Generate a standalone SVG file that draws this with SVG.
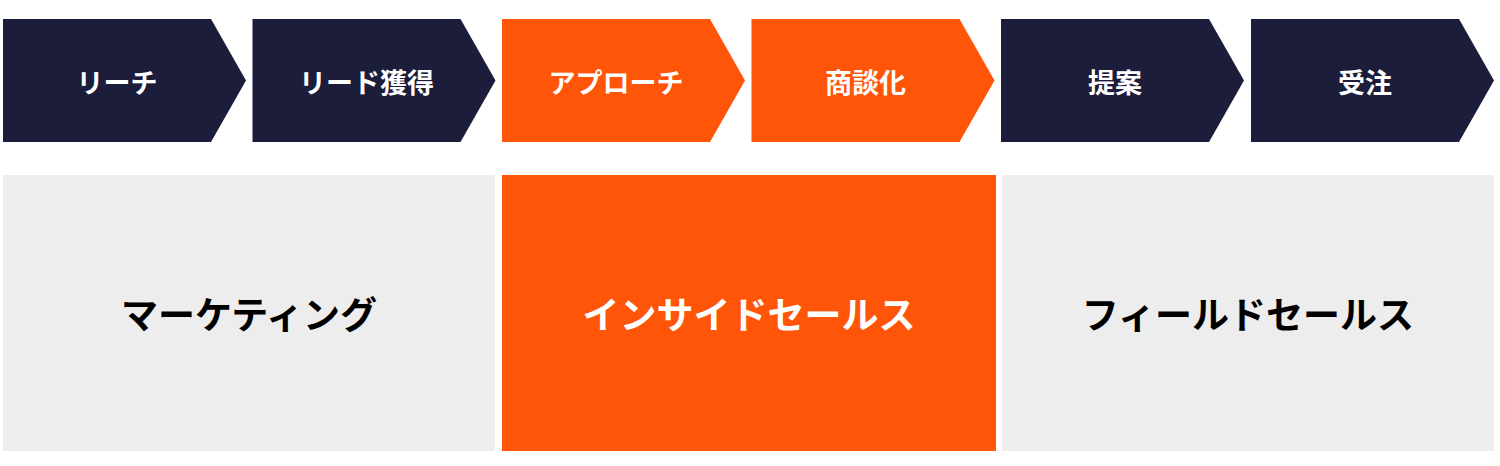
<svg xmlns="http://www.w3.org/2000/svg" width="1500" height="466" viewBox="0 0 1500 466">
<style>
.navy{fill:#1b1d3a}
.orange{fill:#ff5509}
.gray{fill:#ededed}
.t1{font-family:"Noto Sans CJK JP","Noto Sans",sans-serif;font-weight:bold;font-size:27px;fill:#ffffff;text-anchor:middle;dominant-baseline:central}
.t2{font-family:"Noto Sans CJK JP","Noto Sans",sans-serif;font-weight:bold;font-size:37px;text-anchor:middle;dominant-baseline:central}
</style>
<rect width="1500" height="466" fill="#ffffff"/>
<defs>
<path id="chev" d="M0 19 H208 L243 80.5 L208 142 H0 Z"/>
</defs>
<g id="step-reach"><use href="#chev" x="3" class="navy"/><text class="t1" x="117" y="81">リーチ</text></g>
<g id="step-lead"><use href="#chev" x="252.5" class="navy"/><text class="t1" x="366.5" y="81">リード獲得</text></g>
<g id="step-approach"><use href="#chev" x="502" class="orange"/><text class="t1" x="616" y="81">アプローチ</text></g>
<g id="step-deal"><use href="#chev" x="751.5" class="orange"/><text class="t1" x="865.5" y="81">商談化</text></g>
<g id="step-proposal"><use href="#chev" x="1001" class="navy"/><text class="t1" x="1115" y="81">提案</text></g>
<g id="step-order"><use href="#chev" x="1251" class="navy"/><text class="t1" x="1365" y="81">受注</text></g>
<g id="marketing"><rect x="3" y="175" width="492" height="276" class="gray"/><text class="t2" x="249" y="313" fill="#000000">マーケティング</text></g>
<g id="inside-sales"><rect x="502" y="175" width="494" height="276" class="orange"/><text class="t2" x="749" y="313" fill="#ffffff">インサイドセールス</text></g>
<g id="field-sales"><rect x="1002" y="175" width="492" height="276" class="gray"/><text class="t2" x="1248" y="313" fill="#000000">フィールドセールス</text></g>
<g id="connectors"></g>
</svg>
